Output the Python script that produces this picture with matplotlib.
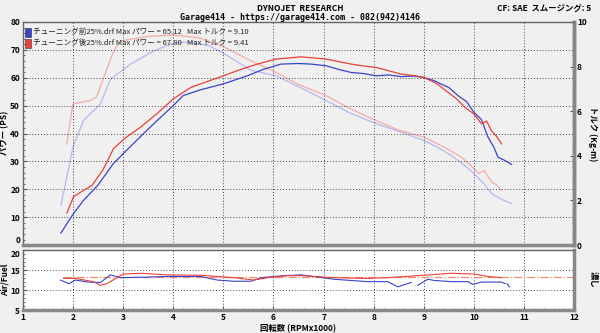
import matplotlib
matplotlib.use("Agg")
import matplotlib.pyplot as plt
from matplotlib.ticker import MultipleLocator

plt.rcParams['font.family'] = ['Noto Sans CJK JP', 'DejaVu Sans']

# ---- data (rpm x1000) ----
pw_before_rpm = [1.76, 2.0, 2.21, 2.5, 2.81, 3.1, 3.41, 3.7, 4.0, 4.2, 4.55, 5.0, 5.48, 5.8, 6.15, 6.5, 6.75, 7.05,
                 7.3, 7.55, 7.8, 8.05, 8.3, 8.55, 8.8, 9.0, 9.2, 9.35, 9.5, 9.68, 9.85, 10.0, 10.15, 10.28, 10.4,
                 10.48, 10.6, 10.75]
pw_before = [4.3, 11.0, 16.0, 21.5, 29.3, 34.5, 40.0, 45.0, 50.0, 53.6, 55.7, 57.8, 60.7, 63.0, 64.9, 65.1, 64.9, 64.3,
             63.0, 61.9, 61.5, 60.7, 61.0, 60.4, 60.6, 60.1, 59.0, 57.7, 56.5, 53.6, 51.5, 47.6, 45.0, 38.7, 35.0,
             31.5, 30.5, 28.9]

pw_after_rpm = [1.88, 2.01, 2.2, 2.38, 2.6, 2.81, 3.05, 3.35, 3.7, 4.0, 4.35, 4.7, 5.0, 5.35, 5.68, 6.05, 6.55, 7.05,
                7.3, 7.55, 7.8, 8.05, 8.3, 8.55, 8.8, 9.0, 9.25, 9.48, 9.65, 9.82, 10.0, 10.15, 10.25, 10.35, 10.45,
                10.55]
pw_after = [11.5, 17.3, 19.5, 21.4, 27.0, 34.6, 38.5, 42.3, 47.5, 52.4, 56.5, 58.8, 60.7, 63.0, 64.9, 66.7, 67.5, 66.7,
            65.8, 64.9, 64.2, 63.7, 62.5, 61.3, 60.8, 60.1, 58.0, 54.8, 52.5, 49.4, 47.0, 43.5, 44.5, 41.0, 39.0,
            36.3]

tq_before_rpm = [1.76, 2.0, 2.21, 2.55, 2.75, 3.15, 3.61, 4.0, 4.3, 4.7, 5.0, 5.55, 6.05, 6.5, 7.05, 7.5, 8.05, 8.5,
                 9.0, 9.3, 9.55, 9.8, 10.0, 10.2, 10.35, 10.55, 10.75]
tq_before = [1.79, 4.39, 5.58, 6.33, 7.44, 8.11, 8.70, 9.05, 9.10, 8.95, 8.6, 7.84, 7.59, 7.1, 6.48, 5.95, 5.44, 5.1,
             4.69, 4.35, 4.01, 3.6, 3.2, 2.75, 2.31, 2.05, 1.86]

tq_after_rpm = [1.88, 2.0, 2.35, 2.47, 2.81, 2.95, 3.5, 4.0, 4.5, 5.0, 5.55, 6.05, 6.5, 7.05, 7.5, 8.05, 8.5, 9.0,
                9.4, 9.75, 9.95, 10.1, 10.2, 10.35, 10.45, 10.55]
tq_after = [4.54, 6.33, 6.48, 6.63, 8.7, 9.15, 9.35, 9.41, 9.3, 8.9, 8.26, 7.74, 7.2, 6.7, 6.15, 5.58, 5.15, 4.84,
            4.4, 3.94, 3.55, 3.2, 3.35, 2.83, 2.7, 2.45]

af_before_rpm = [1.75, 1.92, 2.05, 2.3, 2.55, 2.75, 2.95, 3.4, 3.88, 4.55, 4.88, 5.21, 5.55, 5.75, 6.21, 6.55, 7.21,
                 7.88, 8.28, 8.48, 8.75]
af_before = [12.5, 11.6, 12.5, 12.0, 11.9, 13.8, 13.1, 13.2, 13.4, 13.4, 12.5, 12.2, 12.2, 13.1, 13.6, 13.8, 12.7,
             12.1, 12.1, 10.8, 11.9]
af_before2_rpm = [8.88, 9.08, 9.21, 9.55, 9.88, 9.98, 10.15, 10.55, 10.62]
af_before2 = [11.2, 12.7, 12.4, 12.1, 12.1, 11.4, 12.0, 12.0, 11.6]
af_before3_rpm = [10.66, 10.71]
af_before3 = [11.6, 10.8]

af_after_rpm = [1.81, 2.05, 2.41, 2.55, 2.68, 3.0, 3.35, 3.88, 4.55, 5.21, 5.61, 5.88, 6.28, 6.55, 7.21, 7.88, 8.28,
                8.88, 9.55, 10.01, 10.28, 10.55]
af_after = [12.9, 12.9, 12.1, 11.2, 11.6, 14.0, 14.2, 13.8, 13.7, 13.1, 12.5, 13.1, 13.6, 13.6, 13.1, 12.9, 13.1,
            13.6, 14.2, 14.0, 13.4, 13.1]

af_target = 13.2

power_ticks = [0, 10, 20, 30, 40, 50, 60, 70, 80]
torque_ticks = [0, 2, 4, 6, 8, 10]
af_ticks = [5, 10, 15, 20]
rpm_ticks = [1, 2, 3, 4, 5, 6, 7, 8, 9, 10, 11, 12]

legend_lines = ["チューニング前25%.drf Max パワー = 65.12   Max トルク = 9.10",
                "チューニング後25%.drf Max パワー = 67.80   Max トルク = 9.41"]

# ---- style ----
C_BLUE = '#3a44c8'
C_RED = '#e8403a'
C_LBLUE = '#b4b8ec'
C_PINK = '#f4aaa8'
GRID = dict(color='#444444', linestyle=(0, (1, 2)), linewidth=0.7)
TFS = 6

fig = plt.figure(figsize=(6.0, 3.33), dpi=100)
fig.patch.set_facecolor('#f0f0f0')

ax = fig.add_axes([0.038, 0.264, 0.919, 0.670])
ax2 = ax.twinx()
axl = fig.add_axes([0.038, 0.069, 0.919, 0.180])

for a in (ax, axl):
    a.set_facecolor('white')
    a.set_xlim(1, 12)
    a.set_xticks(rpm_ticks)
    for s in ('left', 'top'):
        a.spines[s].set_color('#666666')
        a.spines[s].set_linewidth(1.0)
    for s in ('right', 'bottom'):
        a.spines[s].set_color('#888888')
        a.spines[s].set_linewidth(2.5)

for s in ('left', 'top'):
    ax2.spines[s].set_visible(False)
ax2.spines['right'].set_color('#888888')
ax2.spines['right'].set_linewidth(2.5)
ax2.spines['bottom'].set_visible(False)

ax.set_ylim(0, 80)
ax.set_yticks(power_ticks)
ax.yaxis.set_minor_locator(MultipleLocator(2))
ax.grid(True, which='major', **GRID)
ax.tick_params(axis='x', length=0, labelbottom=False)
ax.tick_params(axis='y', which='both', direction='in', labelsize=TFS, pad=2, length=3, color='#555555')
ax.tick_params(axis='y', which='minor', length=1.5)
for t in ax.get_yticklabels():
    t.set_fontweight('bold')
ax.yaxis.get_major_ticks()[0].label1.set_verticalalignment('bottom')

ax2.set_ylim(0, 10)
ax2.set_yticks(torque_ticks)
ax2.yaxis.set_minor_locator(MultipleLocator(0.5))
ax2.tick_params(axis='y', which='both', direction='in', labelsize=TFS, pad=2, length=3, color='#555555')
ax2.tick_params(axis='y', which='minor', length=1.5)
for t in ax2.get_yticklabels():
    t.set_fontweight('bold')

ax2.plot(tq_before_rpm, tq_before, color=C_LBLUE, lw=0.9, zorder=2)
ax2.plot(tq_after_rpm, tq_after, color=C_PINK, lw=0.9, zorder=2)
ax.set_zorder(ax2.get_zorder() + 1)
ax.patch.set_visible(False)
ax2.patch.set_facecolor('white')
ax.plot(pw_before_rpm, pw_before, color=C_BLUE, lw=0.9)
ax.plot(pw_after_rpm, pw_after, color=C_RED, lw=0.9)

# legend
for i, (txt, col) in enumerate(zip(legend_lines, [C_BLUE, C_RED])):
    yy = 0.955 - i * 0.05
    ax.add_patch(plt.Rectangle((0.004, yy - 0.022), 0.011, 0.04, transform=ax.transAxes,
                               facecolor=col, edgecolor='#333333', lw=0.4, clip_on=False))
    ax.text(0.018, yy, txt, transform=ax.transAxes, fontsize=5.5, va='center', ha='left', color='#222222')

# axis titles placed as figure texts so they stay inside the canvas
fig.text(0.008, 0.60, 'パワー (PS)', fontsize=6, fontweight='bold', rotation=90, ha='center', va='center')
fig.text(0.988, 0.60, 'トルク (Kg-m)', fontsize=6, fontweight='bold', rotation=270, ha='center', va='center')
fig.text(0.008, 0.16, 'Air/Fuel', fontsize=6, fontweight='bold', rotation=90, ha='center', va='center')

# lower AF axes
axl.set_ylim(5, 20)
axl.set_yticks(af_ticks)
axl.yaxis.set_minor_locator(MultipleLocator(1))
axl.xaxis.set_minor_locator(MultipleLocator(0.2))
axl.grid(True, which='major', **GRID)
axl.tick_params(axis='both', which='both', direction='in', labelsize=TFS, pad=2, length=3, color='#555555')
axl.tick_params(which='minor', length=1.5)
for t in axl.get_yticklabels() + axl.get_xticklabels():
    t.set_fontweight('bold')
axl.yaxis.get_major_ticks()[-1].label1.set_verticalalignment('top')
axl.axhline(af_target, xmin=(1.8 - 1) / 11, xmax=1.0, color='#f08a70', lw=0.9, linestyle='-.')
axl.plot(af_before_rpm, af_before, color=C_BLUE, lw=0.8)
axl.plot(af_before2_rpm, af_before2, color=C_BLUE, lw=0.8)
axl.plot(af_before3_rpm, af_before3, color=C_BLUE, lw=0.8)
axl.plot(af_after_rpm, af_after, color=C_RED, lw=0.8)
axl.set_xlabel('回転数 (RPMx1000)', fontsize=6, fontweight='bold', labelpad=2)
fig.text(0.988, 0.16, '濃し', fontsize=6, fontweight='bold', rotation=270, ha='center', va='center')

# header
fig.text(0.5, 0.988, 'DYNOJET  RESEARCH', fontsize=6, fontweight='bold', ha='center', va='top')
fig.text(0.5, 0.96, 'Garage414 - https://garage414.com - 082(942)4146', fontsize=6, fontweight='bold',
         ha='center', va='top', family=['DejaVu Sans Mono', 'DejaVu Sans'])
fig.text(0.985, 0.988, 'CF: SAE  スムージング: 5', fontsize=6, fontweight='bold', ha='right', va='top')

fig.savefig('out.png', dpi=100, facecolor=fig.get_facecolor())
